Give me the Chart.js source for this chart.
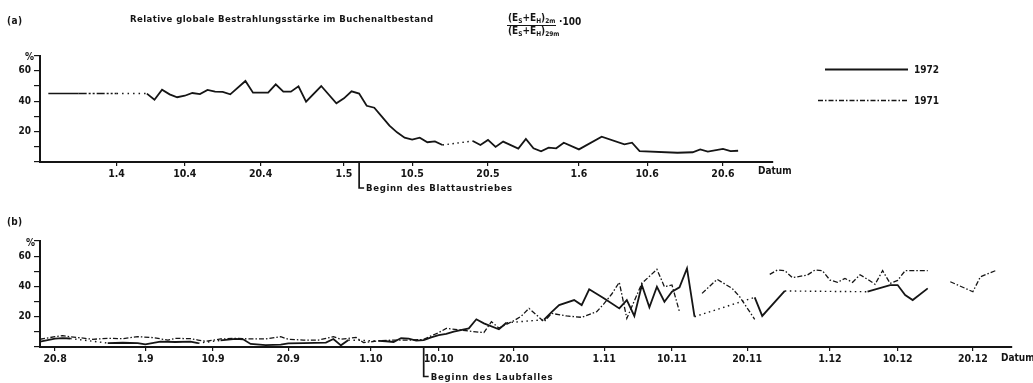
<!DOCTYPE html>
<html>
<head>
<meta charset="utf-8">
<script src="https://cdn.jsdelivr.net/npm/chart.js@4.4.0/dist/chart.umd.min.js"></script>
<style>
  html, body { margin: 0; padding: 0; background: #fff; }
  #wrap { position: relative; width: 1033px; height: 383px; overflow: hidden; background: #fff; }
  #chartA { position: absolute; left: 0; top: 0; }
  #chartB { position: absolute; left: 0; top: 200px; }
</style>
</head>
<body>
<div id="wrap">
  <canvas id="chartA" width="1033" height="200"></canvas>
  <canvas id="chartB" width="1033" height="183"></canvas>
</div>
<script>
// ---- Daten (a): Frühjahr 1972 ----
const aTickDates = ['1.4', '10.4', '20.4', '1.5', '10.5', '20.5', '1.6', '10.6', '20.6'];
const a72Dates = ['5.4','6.4','7.4','8.4','9.4','10.4','11.4','12.4','13.4','14.4','15.4','16.4','18.4','19.4',
  '21.4','22.4','23.4','24.4','25.4','26.4','28.4','30.4','1.5','2.5','3.5','4.5','5.5','6.5','7.5','8.5','9.5',
  '10.5','11.5','12.5','13.5','14.5','16.5','18.5','19.5','20.5','21.5','22.5','24.5','25.5','26.5','27.5','28.5',
  '29.5','30.5','1.6','4.6','7.6','8.6','9.6','14.6','16.6','17.6','18.6','20.6','21.6','22.6'];
const a72Values = [45.0,41.0,47.6,44.5,42.6,43.6,45.4,44.7,47.4,46.3,46.1,44.5,53.3,45.6,
  45.6,51.1,46.3,46.3,49.8,39.7,50.0,38.6,41.9,46.5,45.0,37.0,35.7,29.8,23.9,19.5,16.0,
  14.7,16.0,13.0,13.6,11.2,null,13.8,11.2,14.5,9.9,13.4,8.8,15.1,9.0,7.0,9.4,
  9.0,12.7,8.3,16.7,11.6,12.7,7.2,6.1,6.4,8.3,6.8,8.6,7.2,7.4];
// ergänzte Werte (ohne Messung)
const aLeadDates = ['23.3', '27.3', '1.4', '5.4'];
const aLeadValues = [45, 45, 45, 45];
const aGapDates = ['14.5', '18.5'];
const aGapValues = [11.2, 13.8];
const aMarkDate = '3.5';

// ---- Daten (b): Herbst 1972 und 1971 ----
const bTickDates = ['20.8','1.9','10.9','20.9','1.10','10.10','20.10','1.11','10.11','20.11','1.12','10.12','20.12'];
const b72Dates = ['18.8','20.8','21.8','22.8','24.8','27.8','29.8','31.8','1.9','3.9','5.9','7.9','8.9','10.9',
  '11.9','13.9','14.9','15.9','17.9','19.9','20.9','22.9','25.9','26.9','27.9','28.9','30.9',
  '2.10','3.10','4.10','5.10','6.10','7.10','8.10','9.10','10.10','11.10','12.10','14.10','15.10','16.10',
  '18.10','19.10','21.10','24.10','25.10','26.10','28.10','29.10','30.10','1.11','3.11','4.11','5.11',
  '6.11','7.11','8.11','9.11','10.11','11.11','12.11','13.11','17.11','21.11','22.11','25.11','30.11',
  '6.12','9.12','10.12','11.12','12.12','14.12'];
const b72Values = [3.5,5.5,5.9,5.6,null,2.6,2.8,2.6,1.8,3.5,3.3,3.5,2.5,null,
  4.4,5.3,5.1,2.0,1.3,1.6,2.4,2.6,2.9,5.3,1.1,4.6,null,
  4.0,3.8,3.3,5.9,5.5,4.2,4.6,6.4,7.9,8.6,10.1,12.3,18.3,15.6,
  11.7,16.0,null,18.0,23.0,27.7,31.0,27.7,38.1,32.1,25.5,31.0,20.5,
  40.9,26.2,39.8,29.9,36.5,39.4,51.9,20.0,null,32.8,20.5,37.0,null,
  36.5,40.9,40.9,34.3,31.0,38.7];
const b72GapDates = ['22.8','27.8','28.8','8.9','11.9','12.9','28.9','2.10','3.10','19.10','24.10','25.10',
  '13.11','21.11','22.11','25.11','6.12'];
const b72GapValues = [5.6,2.6,null,2.5,4.4,null,4.6,4.0,null,16.0,18.0,null,20.0,32.8,null,37.0,36.5];
const b71Dates = ['18.8','20.8','21.8','22.8','24.8','25.8','27.8','29.8','31.8','2.9','4.9','5.9','7.9','8.9',
  '9.9','11.9','13.9','15.9','17.9','19.9','20.9','22.9','24.9','26.9','27.9','29.9','30.9',
  '2.10','4.10','6.10','8.10','9.10','10.10','11.10','13.10','14.10','16.10','17.10','18.10','20.10',
  '21.10','22.10','24.10','25.10','27.10','29.10','31.10','1.11','2.11','3.11','4.11','6.11','8.11',
  '9.11','10.11','11.11','12.11','14.11','16.11','18.11','19.11','21.11','22.11','23.11','24.11','25.11',
  '26.11','28.11','29.11','30.11','1.12','2.12','3.12','4.12','5.12','6.12','7.12','8.12','9.12',
  '10.12','11.12','14.12','15.12','17.12','20.12','21.12','23.12'];
const b71Values = [5.1,6.8,7.5,6.8,5.7,5.1,5.7,5.5,6.8,6.2,4.6,5.7,5.5,4.6,
  3.7,5.3,5.7,5.3,5.3,6.8,5.1,4.6,4.6,6.8,5.1,6.4,2.9,
  4.0,4.6,4.5,5.0,7.4,9.5,12.3,11.2,10.5,9.5,16.7,12.5,17.4,
  20.5,25.5,16.7,22.2,20.5,19.6,23.3,28.8,35.0,42.7,18.9,42.0,51.3,
  39.8,41.0,23.3,null,35.4,44.7,38.7,33.2,18.3,null,48.0,50.8,50.4,
  45.8,47.5,50.8,50.4,44.2,42.7,45.3,42.7,47.7,44.7,41.4,50.4,42.0,
  44.0,50.4,50.4,null,43.1,36.5,46.4,50.4];
const bMarkDate = '8.10';

const ink = '#151515';
const family = '"DejaVu Sans Condensed", "Liberation Sans Narrow", "DejaVu Sans", sans-serif';
const dashDot = [5, 2, 1.5, 2];
const dotted = [1.5, 3.5];

// Tag im Jahr aus "T.M"
const monthStart = [0, 31, 60, 91, 121, 152, 182, 213, 244, 274, 305, 335];
function doy(s) {
    const [d, m] = s.split('.').map(Number);
    return monthStart[m - 1] + d;
}
const pts = (dates, vals) => dates.map((d, i) => ({ x: doy(d), y: vals[i] }));
const font = size => 'bold ' + size + 'px ' + family;

function spacedText(ctx, text, x, y, width) {
    ctx.letterSpacing = '0px';
    const w = ctx.measureText(text).width;
    const extra = (width - w) / Math.max(text.length - 1, 1);
    ctx.letterSpacing = extra.toFixed(2) + 'px';
    ctx.fillText(text, x, y);
    ctx.letterSpacing = '0px';
}

function drawRuns(ctx, runs, x, y) {
    runs.forEach(([t, sub]) => {
        ctx.font = font(sub ? 6.5 : 10);
        ctx.fillText(t, x, sub ? y + 3 : y);
        x += ctx.measureText(t).width;
    });
    return x;
}

function makeScales(min, max, tickDates) {
    return {
        x: {
            type: 'linear', min: min, max: max,
            afterBuildTicks: s => { s.ticks = tickDates.map(d => ({ value: doy(d) })); },
            afterFit: s => { s.height = 20; },
            ticks: { callback: (v, i) => tickDates[i], autoSkip: false, maxRotation: 0, padding: 2, font: { size: 10.5, weight: 'bold' } },
            grid: { drawOnChartArea: false, tickLength: 4, color: ink, lineWidth: 1.2 },
            border: { color: ink, width: 2 }
        },
        y: {
            min: 0, max: 70,
            afterFit: s => { s.width = 40; },
            ticks: { stepSize: 10, callback: v => (v > 0 && v % 20 === 0) ? String(v) : '', padding: 3, font: { size: 10, weight: 'bold' } },
            grid: { drawOnChartArea: false, tickLength: 6, color: ink, lineWidth: 1.2 },
            border: { color: ink, width: 2 }
        }
    };
}

function baseOptions(padding, scales) {
    return {
        responsive: false, animation: false, events: [],
        layout: { padding: padding },
        elements: { point: { radius: 0 }, line: { tension: 0 } },
        plugins: { legend: { display: false }, tooltip: { enabled: false } },
        scales: scales
    };
}

function markLine(chart, date, bottomY, label, labelWidth) {
    const ctx = chart.ctx;
    const bx = chart.scales.x.getPixelForValue(doy(date));
    ctx.lineWidth = 1.7;
    ctx.beginPath();
    ctx.moveTo(bx, chart.chartArea.bottom);
    ctx.lineTo(bx, bottomY);
    ctx.lineTo(bx + 5, bottomY);
    ctx.stroke();
    ctx.font = font(9.5);
    spacedText(ctx, label, bx + 7, bottomY + 1, labelWidth);
}

document.addEventListener('DOMContentLoaded', function() {
    Chart.defaults.font.family = family;
    Chart.defaults.color = ink;

    /* Diagramm (a) */
    const decorA = {
        id: 'decorA',
        afterDraw(chart) {
            const ctx = chart.ctx;
            ctx.save();
            ctx.fillStyle = ink;
            ctx.strokeStyle = ink;
            ctx.textBaseline = 'middle';
            ctx.font = font(10);
            spacedText(ctx, '(a)', 7, 21, 15);
            ctx.font = font(9.5);
            spacedText(ctx, 'Relative globale Bestrahlungsstärke im Buchenaltbestand', 130, 20, 303);

            drawRuns(ctx, [['(E', 0], ['S', 1], ['+E', 0], ['H', 1], [')', 0], ['2m', 1]], 508, 18);
            ctx.lineWidth = 1.2;
            ctx.beginPath(); ctx.moveTo(507, 25.5); ctx.lineTo(556, 25.5); ctx.stroke();
            drawRuns(ctx, [['(E', 0], ['S', 1], ['+E', 0], ['H', 1], [')', 0], ['29m', 1]], 508, 31);
            ctx.font = font(10);
            ctx.fillText('·100', 559, 22);

            ctx.fillText('%', 25, 57);
            ctx.fillText('Datum', 758, 171);

            markLine(chart, aMarkDate, 188, 'Beginn des Blattaustriebes', 146);

            // Legende
            ctx.lineWidth = 1.8;
            ctx.beginPath(); ctx.moveTo(825, 69.5); ctx.lineTo(908, 69.5); ctx.stroke();
            ctx.lineWidth = 1.3;
            ctx.setLineDash(dashDot);
            ctx.beginPath(); ctx.moveTo(818, 100.5); ctx.lineTo(908, 100.5); ctx.stroke();
            ctx.setLineDash([]);
            ctx.font = font(10);
            ctx.fillText('1972', 914, 70);
            ctx.fillText('1971', 914, 101);
            ctx.restore();
        }
    };

    const leadDash = [[], [8, 2, 2, 2, 2, 2], [1.5, 4]];
    new Chart(document.getElementById('chartA'), {
        type: 'line',
        data: {
            datasets: [
                { data: pts(a72Dates, a72Values), borderColor: ink, borderWidth: 1.8, spanGaps: false },
                { data: pts(aGapDates, aGapValues), borderColor: ink, borderWidth: 1.4, borderDash: dotted },
                { data: pts(aLeadDates, aLeadValues), borderColor: ink, borderWidth: 1.5,
                  segment: { borderDash: c => leadDash[c.p0DataIndex] } }
            ]
        },
        options: baseOptions({ top: 55.6, right: 260, bottom: 18, left: 0 },
            makeScales(doy('1.4') - 10.1, doy('1.4') + 86.6, aTickDates)),
        plugins: [decorA]
    });

    /* Diagramm (b) */
    const decorB = {
        id: 'decorB',
        afterDraw(chart) {
            const ctx = chart.ctx;
            ctx.save();
            ctx.fillStyle = ink;
            ctx.strokeStyle = ink;
            ctx.textBaseline = 'middle';
            ctx.font = font(10);
            spacedText(ctx, '(b)', 7, 22, 15);
            ctx.fillText('%', 26, 43);
            ctx.fillText('Datum', 1001, 158);
            markLine(chart, bMarkDate, 176.5, 'Beginn des Laubfalles', 122);
            ctx.restore();
        }
    };

    new Chart(document.getElementById('chartB'), {
        type: 'line',
        data: {
            datasets: [
                { data: pts(b72Dates, b72Values), borderColor: ink, borderWidth: 1.8, spanGaps: false },
                { data: pts(b72GapDates, b72GapValues), borderColor: ink, borderWidth: 1.4, borderDash: dotted, spanGaps: false },
                { data: pts(b71Dates, b71Values), borderColor: ink, borderWidth: 1.3, borderDash: dashDot, spanGaps: false }
            ]
        },
        options: baseOptions({ top: 41, right: 21, bottom: 16, left: 0 },
            makeScales(doy('20.8') - 2.0, doy('20.8') + 127.2, bTickDates)),
        plugins: [decorB]
    });
});
</script>
</body>
</html>
